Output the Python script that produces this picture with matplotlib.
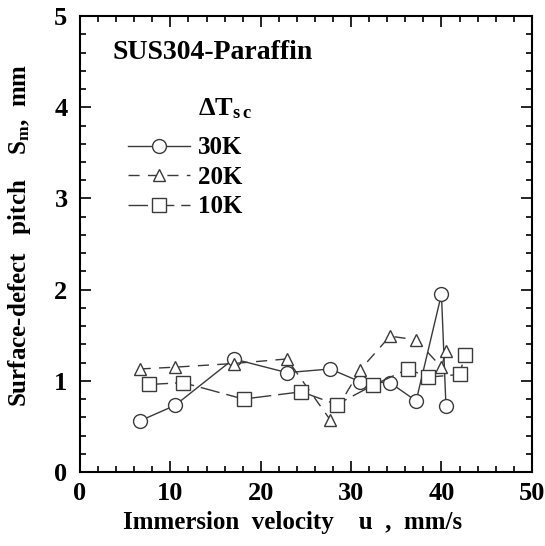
import matplotlib
matplotlib.use("Agg")
import matplotlib.pyplot as plt
from matplotlib.ticker import MultipleLocator

plt.rcParams['font.family'] = ['Liberation Serif', 'DejaVu Serif']
plt.rcParams['font.weight'] = 'bold'
plt.rcParams['mathtext.fontset'] = 'custom'
plt.rcParams['mathtext.rm'] = 'Liberation Serif:bold'
plt.rcParams['mathtext.it'] = 'Liberation Serif:bold'
plt.rcParams['mathtext.bf'] = 'Liberation Serif:bold'

# data
u_30 = [6.6, 10.5, 17.0, 22.9, 27.7, 31.0, 34.3, 37.2, 40.0, 40.5]
s_30 = [0.56, 0.73, 1.24, 1.09, 1.13, 0.99, 0.98, 0.78, 1.95, 0.72]
u_20 = [6.6, 10.5, 17.0, 22.9, 27.7, 31.0, 34.3, 37.2, 40.0, 40.5]
s_20 = [1.13, 1.15, 1.19, 1.24, 0.57, 1.12, 1.49, 1.45, 1.15, 1.33]
u_10 = [7.6, 11.4, 18.1, 24.5, 28.4, 32.4, 36.3, 38.5, 42.0, 42.6]
s_10 = [0.96, 0.98, 0.80, 0.88, 0.74, 0.95, 1.13, 1.04, 1.07, 1.28]
labels = ['30K', '20K', '10K']

fig = plt.figure(figsize=(5.45, 5.46), dpi=100)
ax = fig.add_axes([0.1468, 0.1355, 0.829, 0.835])

lc = '#3a3a3a'
h1, = ax.plot(u_30, s_30, '-', color=lc, lw=1.0, marker='o', ms=10,
              mfc='white', mec=lc, mew=1.0, label=labels[0], zorder=3)
h2, = ax.plot(u_20, s_20, color=lc, lw=1.0, dashes=(8, 6), marker='^', ms=9,
              mfc='white', mec=lc, mew=1.0, label=labels[1], zorder=3)
h3, = ax.plot(u_10, s_10, color=lc, lw=1.0, dashes=(14, 5), marker='s', ms=10,
              mfc='white', mec=lc, mew=1.0, label=labels[2], zorder=3)

ax.set_xlim(0, 50)
ax.set_ylim(0, 5)
ax.xaxis.set_major_locator(MultipleLocator(10))
ax.xaxis.set_minor_locator(MultipleLocator(2))
ax.yaxis.set_major_locator(MultipleLocator(1))
ax.yaxis.set_minor_locator(MultipleLocator(0.2))
ax.tick_params(which='both', direction='in', top=True, right=True,
               labelsize=19, width=1.2)
ax.tick_params(axis='x', pad=7)
ax.tick_params(axis='y', pad=9)
ax.tick_params(which='major', length=8)
ax.tick_params(which='minor', length=4)
for sp in ax.spines.values():
    sp.set_linewidth(1.5)
for lab in ax.get_xticklabels() + ax.get_yticklabels():
    lab.set_fontweight('bold')

ax.set_xlabel('Immersion  velocity    u  ,  mm/s', fontsize=18, fontweight='bold')
ax.xaxis.set_label_coords(0.471, -0.085)
ax.set_ylabel(r'Surface-defect   pitch    S$_{\mathrm{m}}$,  mm', fontsize=18,
              fontweight='bold')
ax.yaxis.set_label_coords(-0.105, 0.52)

ax.text(0.071, 0.921, 'SUS304-Paraffin', transform=ax.transAxes, fontsize=20,
        fontweight='bold', va='center', ha='left')
ax.text(0.261, 0.798, r'$\Delta$T$_{s\,c}$', transform=ax.transAxes, fontsize=19,
        fontweight='bold', va='center', ha='left')

leg = ax.legend(handles=[h1, h2, h3], loc='upper left', bbox_to_anchor=(0.106, 0.736),
                frameon=False, fontsize=18, handlelength=2.5, handletextpad=0.32,
                labelspacing=0.26, numpoints=1, borderpad=0, borderaxespad=0)
for t in leg.get_texts():
    t.set_fontweight('bold')

fig.savefig('out.png', dpi=100)
